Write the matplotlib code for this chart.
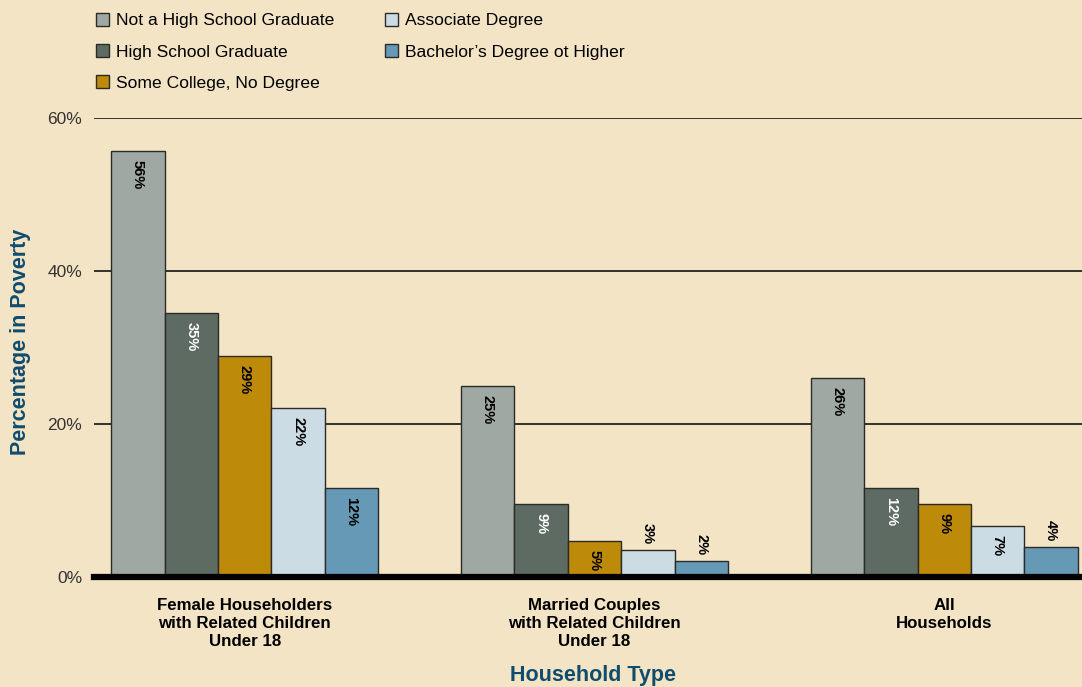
import numpy as np
import matplotlib.pyplot as plt
from matplotlib.patches import Patch

plt.rcParams['font.family'] = ['Liberation Sans', 'DejaVu Sans']

# 数据
groups = ['Female Householders\nwith Related Children\nUnder 18',
          'Married Couples\nwith Related Children\nUnder 18',
          'All\nHouseholds']
series = ['Not a High School Graduate', 'High School Graduate',
          'Some College, No Degree', 'Associate Degree',
          'Bachelor\u2019s Degree ot Higher']
values_plot = [
    [55.7, 25.0, 26.0],
    [34.5, 9.5, 11.6],
    [28.9, 4.7, 9.5],
    [22.1, 3.5, 6.7],
    [11.6, 2.1, 3.9],
]
labels = [
    ['56%', '25%', '26%'],
    ['35%', '9%', '12%'],
    ['29%', '5%', '9%'],
    ['22%', '3%', '7%'],
    ['12%', '2%', '4%'],
]
yticks = [0, 20, 40, 60]

colors = ['#A0A8A3', '#5E6B63', '#BD8B09', '#CCDCE4', '#6599B5']
label_colors = ['black', 'white', 'black', 'black', 'black']
bg = '#F3E4C5'
blue_txt = '#0F4C6E'

fig = plt.figure(figsize=(10.82, 6.87), dpi=100, facecolor=bg)
ax = fig.add_axes([94 / 1082, 1 - 577 / 687, 1 - 94 / 1082, (577 - 118) / 687])
ax.set_facecolor(bg)

x = np.arange(len(groups))
w = 0.1526
px = 60 / (577 - 118)  # 每像素对应的数据量

for i, name in enumerate(series):
    pos = x + (i - 2) * w
    ax.bar(pos, values_plot[i], width=w, color=colors[i], edgecolor='#2a2a2a',
           linewidth=1, zorder=3, label=name)
    for j, v in enumerate(values_plot[i]):
        if v >= 4.5:
            ax.text(pos[j], v - 9 * px, labels[i][j], rotation=270, ha='center', va='top',
                    fontsize=10.5, fontweight='bold', color=label_colors[i], zorder=4)
        else:
            ax.text(pos[j], v + 6 * px, labels[i][j], rotation=270, ha='center', va='bottom',
                    fontsize=10.5, fontweight='bold', color='black', zorder=4)

ax.set_xlim(-0.431, 2.394)
ax.set_ylim(0, 60)
ax.set_yticks(yticks)
ax.set_yticklabels([f'{t}%' for t in yticks], fontsize=12.5, color='#333333')
ax.yaxis.grid(True, color='black', linewidth=1.1, zorder=1)
ax.tick_params(axis='y', length=0, pad=8.5)
ax.axhline(0, color='black', linewidth=4.5, zorder=5, clip_on=False)

ax.set_xticks(x)
ax.set_xticklabels(groups, fontsize=12.2, fontweight='bold', linespacing=1.25)
ax.tick_params(axis='x', length=0, pad=15)
for s in ax.spines.values():
    s.set_visible(False)

fig.text(21 / 1082, 1 - 342 / 687, 'Percentage in Poverty', rotation=90, ha='center', va='center',
         fontsize=15.5, fontweight='bold', color=blue_txt)
fig.text(593 / 1082, 1 - 675 / 687, 'Household Type', ha='center', va='center',
         fontsize=15.5, fontweight='bold', color=blue_txt)

handles = [Patch(facecolor=c, edgecolor='#2a2a2a', linewidth=1) for c in colors]
fig.legend(handles, series, ncol=2, loc='upper left', bbox_to_anchor=(80 / 1082, 1.0 + 3 / 687),
           frameon=False, fontsize=12.6, handlelength=0.75, handleheight=0.75,
           handletextpad=0.4, labelspacing=0.9, columnspacing=2.92)

fig.savefig('out.png', dpi=100, facecolor=bg)
